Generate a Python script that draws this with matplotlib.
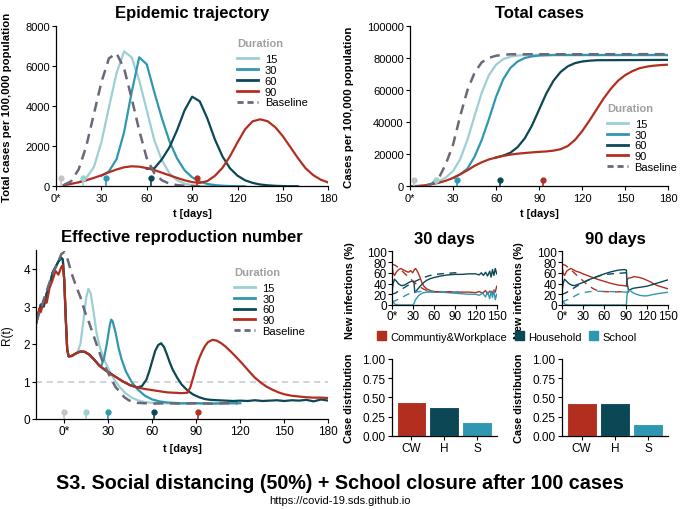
import numpy as np
import matplotlib
matplotlib.use("Agg")
import matplotlib.pyplot as plt
from matplotlib.lines import Line2D
from matplotlib.patches import Patch

plt.rcParams['font.family'] = ['Liberation Sans', 'DejaVu Sans']

C15 = '#9dcfd3'
C30 = '#2f98b0'
C60 = '#0c4756'
C90 = '#b22f20'
CBASE = '#6b6878'
CGREY = '#c4c4c4'

durations = ['15', '30', '60', '90']

# --- epidemic trajectory (incidence per 100,000) ---
inc_base_t = [5, 10, 15, 20, 25, 30, 35, 40, 45, 50, 55, 60, 65, 70, 75, 80, 85, 90, 95]
inc_base = [60, 250, 850, 2000, 3600, 5200, 6400, 6650, 5900, 4400, 2800, 1400, 650, 300, 130, 60, 25, 10, 0]
inc_15_t = [15, 20, 25, 30, 35, 40, 45, 50, 55, 60, 65, 70, 75, 80, 85, 90, 95, 100, 105, 110, 115, 120]
inc_15 = [200, 420, 950, 2200, 3950, 5650, 6750, 6450, 5300, 3800, 2300, 1300, 650, 300, 130, 55, 20, 8, 0, 0, 0, 0]
inc_30_t = [30, 35, 40, 45, 50, 55, 60, 65, 70, 75, 80, 85, 90, 95, 100, 105, 110, 115, 120, 125]
inc_30 = [520, 750, 1350, 2700, 4700, 6450, 6100, 4700, 3400, 2250, 1400, 800, 450, 240, 120, 60, 30, 12, 5, 0]
inc_60_t = [60, 65, 70, 75, 80, 85, 90, 95, 100, 105, 110, 115, 120, 125, 130, 135, 140, 145, 150, 155, 160]
inc_60 = [880, 900, 1350, 1950, 2800, 3800, 4480, 4250, 3400, 2350, 1500, 900, 530, 300, 170, 90, 50, 25, 10, 4, 0]
inc_90_t = [5, 10, 15, 20, 25, 30, 35, 40, 45, 50, 55, 60, 65, 70, 75, 80, 85, 90, 95, 100,
            105, 110, 115, 120, 125, 130, 135, 140, 145, 150, 155, 160, 165, 170, 175, 180]
inc_90 = [50, 120, 200, 300, 420, 550, 700, 840, 950, 1000, 980, 910, 810, 680, 550, 420, 300, 210, 170, 260,
          520, 920, 1500, 2200, 2850, 3250, 3350, 3250, 2950, 2500, 1950, 1400, 900, 560, 330, 190]

# --- total cases ---
cum_base_t = [0, 5, 10, 15, 20, 25, 30, 35, 40, 45, 50, 55, 60, 65, 70, 180]
cum_base = [0, 20, 300, 1500, 5000, 14000, 26000, 44000, 60000, 71000, 77500, 80300, 81600, 82200, 82500, 82600]
cum_15_t = [15, 20, 25, 30, 35, 40, 45, 50, 55, 60, 65, 70, 75, 80, 90, 180]
cum_15 = [1300, 3000, 5500, 9500, 17000, 29000, 44000, 58500, 69500, 76000, 79500, 81000, 81700, 82000, 82200, 82200]
cum_30_t = [30, 35, 40, 45, 50, 55, 60, 65, 70, 75, 80, 85, 90, 100, 180]
cum_30 = [5200, 7500, 11000, 18500, 29000, 42000, 56000, 67000, 74000, 78000, 80200, 81200, 81700, 82000, 82000]
cum_60_t = [60, 65, 70, 75, 80, 85, 90, 95, 100, 105, 110, 115, 120, 125, 130, 180]
cum_60 = [18000, 19200, 21000, 24500, 30000, 38000, 48000, 58000, 66000, 71500, 75000, 77000, 78000, 78500, 78800, 79000]
cum_90_t = list(range(0, 185, 5))
cum_90 = [0, 200, 600, 1300, 2200, 3500, 5200, 7500, 10000, 12800, 15000, 16800, 18000, 19000, 19800, 20400,
          20800, 21200, 21500, 21800, 22300, 23200, 25200, 29000, 34500, 41000, 48000, 55000, 61000, 66000,
          69500, 72000, 73800, 74800, 75400, 75800, 76000]

lift_days_top = [3, 18, 33, 63, 93]

# --- effective reproduction number ---
r_pre_t = [-19, -17, -16, -14, -12, -10, -8, -6, -4, -2, -1]
r_pre_red = [2.55, 2.95, 2.85, 3.15, 3.1, 3.5, 3.7, 3.95, 3.85, 4.05, 4.1]
r_pre_teal = [2.6, 2.9, 3.05, 3.0, 3.35, 3.55, 3.9, 4.05, 4.2, 4.3, 4.25]
r_90_t = [0, 1, 2, 3, 5, 8, 11, 14, 17, 20, 24, 28, 32, 36, 40, 45, 50, 55, 60, 65,
          70, 75, 80, 84, 86, 88, 90, 92, 94, 96, 98, 101, 104, 107, 110, 114, 118, 122, 126, 130,
          134, 138, 142, 146, 150, 155, 160, 165, 170, 175, 180]
r_90 = [3.7, 2.7, 1.85, 1.67, 1.68, 1.75, 1.8, 1.79, 1.72, 1.6, 1.42, 1.3, 1.2, 1.1, 1.0, 0.9, 0.84, 0.8, 0.77, 0.74,
        0.71, 0.7, 0.69, 0.7, 0.85, 1.12, 1.4, 1.62, 1.8, 1.95, 2.05, 2.11, 2.09, 2.02, 1.93, 1.78, 1.62, 1.45, 1.27, 1.1,
        0.97, 0.86, 0.78, 0.71, 0.66, 0.62, 0.6, 0.58, 0.57, 0.57, 0.56]
r_15_t = [9, 11, 13, 15, 16.5, 18, 20, 22, 24, 27, 30, 34, 38, 42, 46, 50, 55, 60, 70, 80, 90, 100, 110, 118]
r_15 = [1.78, 2.0, 2.6, 3.25, 3.47, 3.35, 2.85, 2.3, 1.95, 1.6, 1.35, 1.05, 0.84, 0.68, 0.57, 0.5, 0.45, 0.43,
        0.42, 0.41, 0.42, 0.41, 0.42, 0.42]
r_30_t = [25, 27, 29, 31, 32, 33, 35, 37, 39, 42, 46, 50, 55, 60, 65, 70, 80, 90, 100, 110, 120]
r_30 = [1.4, 1.6, 2.0, 2.5, 2.65, 2.6, 2.3, 1.9, 1.6, 1.27, 0.98, 0.79, 0.62, 0.52, 0.47, 0.44, 0.42, 0.42,
        0.41, 0.42, 0.42]
r_60_t = [50, 53, 56, 58, 60, 62, 64, 66, 68, 70, 72, 74, 77, 80, 84, 88, 92, 96, 100, 105,
          110, 115, 120, 125, 130, 135, 140, 145, 150, 155, 160, 165, 170, 175, 180]
r_60 = [0.84, 0.88, 1.05, 1.28, 1.55, 1.82, 1.97, 2.02, 1.92, 1.72, 1.5, 1.31, 1.1, 0.92, 0.76, 0.65, 0.58, 0.53,
        0.51, 0.5, 0.49, 0.48, 0.49, 0.48, 0.5, 0.48, 0.49, 0.5, 0.48, 0.5, 0.49, 0.51, 0.47, 0.52, 0.49]
r_base_t = [-19, -16, -13, -10, -7, -4, -2, 0, 2, 5, 8, 11, 14, 17, 20, 23, 26, 29, 32, 35,
            38, 41, 44, 47, 50, 55, 60, 70, 80, 90, 100, 110, 118]
r_base = [2.6, 2.95, 3.3, 3.65, 3.95, 4.2, 4.4, 4.45, 4.3, 3.88, 3.55, 3.25, 2.87, 2.56, 2.22, 1.88, 1.55, 1.3,
          1.07, 0.85, 0.72, 0.58, 0.5, 0.45, 0.43, 0.42, 0.41, 0.42, 0.41, 0.42, 0.41, 0.42, 0.42]
lift_days_r = [0, 15, 30, 61, 91]

# --- new infections by setting (%) ---
cw30_t = [0, 2, 4, 7, 10, 13, 16, 20, 24, 27, 30, 32, 34, 37, 40, 43, 46, 50, 55, 60,
          70, 80, 90, 100, 110, 120, 125, 130, 134, 137, 140, 143, 146, 148, 150]
cw30 = [76, 60, 55, 62, 66, 68, 66, 63, 61, 64, 60, 65, 68, 62, 53, 42, 35, 30, 27, 25,
        24, 24, 24, 24, 24, 23, 25, 22, 27, 20, 26, 21, 28, 24, 35]
hh30_t = [0, 2, 4, 7, 10, 14, 18, 22, 26, 30, 32, 33, 35, 38, 42, 46, 50, 55, 60, 70,
          80, 90, 100, 110, 120, 125, 128, 131, 134, 137, 140, 142, 144, 146, 148, 150]
hh30 = [20, 40, 48, 44, 39, 36, 37, 40, 43, 45, 40, 23, 26, 31, 37, 42, 46, 49, 51, 54,
        56, 57, 57, 58, 58, 56, 60, 55, 61, 54, 63, 52, 66, 55, 68, 58]
sc30_t = [0, 3, 5, 10, 20, 30, 32, 34, 36, 38, 42, 46, 50, 60, 70, 80, 90, 100, 110, 120,
          125, 130, 134, 137, 140, 142, 144, 146, 148, 150]
sc30 = [8, 4, 1, 0, 0, 0, 3, 10, 13, 17, 21, 23, 24, 24, 24, 23, 22, 21, 20, 20,
        18, 22, 15, 24, 12, 26, 14, 27, 10, 20]
cw90_t = [0, 2, 4, 7, 10, 13, 16, 20, 25, 30, 40, 50, 60, 70, 80, 88, 91, 92, 94, 98,
          102, 106, 110, 115, 120, 125, 130, 135, 140, 145, 150]
cw90 = [76, 60, 55, 63, 66, 68, 66, 63, 61, 58, 53, 48, 44, 40, 37, 36, 35, 47, 50, 51,
        53, 52, 51, 49, 46, 43, 39, 36, 34, 32, 30]
hh90_t = [0, 2, 4, 7, 10, 14, 18, 22, 26, 30, 40, 50, 60, 70, 80, 88, 91, 92, 94, 97,
          100, 105, 110, 120, 130, 140, 150]
hh90 = [20, 40, 48, 44, 40, 37, 36, 38, 40, 42, 48, 53, 58, 62, 65, 66, 65, 40, 28, 29,
        31, 32, 33, 35, 39, 43, 47]
sc90_t = [0, 3, 5, 10, 30, 60, 90, 91, 92, 94, 97, 100, 105, 110, 115, 120, 130, 140, 150]
sc90 = [8, 4, 1, 0, 0, 0, 0, 1, 20, 28, 26, 23, 20, 18, 17, 17, 20, 22, 24]
bl_t = [0, 5, 10, 15, 20, 25, 30, 35, 40, 45, 50, 55, 60, 70, 80, 90, 95]
bl_cw = [76, 74, 69, 63, 57, 51, 45, 39, 34, 30, 27, 25.5, 25, 24.5, 24.5, 25, 25]
bl_hh = [20, 22, 26, 30, 34, 38, 42, 45, 48, 51, 53, 55, 56.5, 58, 59, 60, 60]
bl_sc = [6, 8, 11, 14, 18, 21, 23, 24, 25, 25.5, 25.5, 25.5, 25, 25, 24.5, 24, 24]

# --- case distribution ---
settings = ['CW', 'H', 'S']
dist30 = [0.44, 0.37, 0.18]
dist90 = [0.42, 0.43, 0.15]

colors = [C15, C30, C60, C90]
set_colors = [C90, C60, C30]

W, H = 680, 510
fig = plt.figure(figsize=(6.8, 5.1), dpi=100)


def add_ax(l, t, r, b):
    return fig.add_axes([l / W, 1 - b / H, (r - l) / W, (b - t) / H])


def style(ax, size=8):
    for s in ['top', 'right']:
        ax.spines[s].set_visible(False)
    for s in ['left', 'bottom']:
        ax.spines[s].set_linewidth(0.9)
    ax.tick_params(length=3, width=0.8, labelsize=size, pad=1.5, colors='black')
    ax.set_facecolor('none')


def dur_legend(ax, x, y):
    handles = [Line2D([], [], color=c, lw=2) for c in colors]
    handles.append(Line2D([], [], color=CBASE, lw=2, ls=(0, (2.2, 1.4))))
    leg = ax.legend(handles, durations + ['Baseline'], title='Duration', loc='upper left',
                    bbox_to_anchor=(x, y), frameon=False, fontsize=8, handlelength=1.9,
                    handletextpad=0.6, labelspacing=0.08, borderpad=0, borderaxespad=0,
                    alignment='left', title_fontproperties={'weight': 'bold', 'size': 8})
    leg.get_title().set_color('#a0a0a0')
    leg._legend_box.sep = 4


def lollipops(ax, days, h):
    cols = [CGREY] + colors
    for d, c in zip(days, cols):
        ax.plot([d, d], [0, h], color=c, lw=1.2, zorder=5)
        ax.plot(d, h, 'o', color=c, ms=3.5, zorder=5)


day_ticks = [0, 30, 60, 90, 120, 150, 180]
day_labels = ['0*', '30', '60', '90', '120', '150', '180']
dash = (0, (4, 2.6))
TFS = 12

# Epidemic trajectory
ax1 = add_ax(56, 27.3, 328.3, 187.3)
for t, v, c in zip([inc_15_t, inc_30_t, inc_60_t, inc_90_t], [inc_15, inc_30, inc_60, inc_90], colors):
    ax1.plot(t, v, color=c, lw=1.6)
ax1.plot(inc_base_t, inc_base, color=CBASE, lw=1.8, ls=dash)
lollipops(ax1, lift_days_top, 400)
ax1.set_xlim(0, 180)
ax1.set_ylim(0, 8000)
ax1.set_xticks(day_ticks, day_labels)
ax1.set_yticks([0, 2000, 4000, 6000, 8000])
style(ax1)
ax1.set_title('Epidemic trajectory', fontsize=TFS, weight='bold', pad=7)
ax1.set_ylabel('Total cases per 100,000 population', fontsize=8.2, weight='bold')
ax1.yaxis.set_label_coords(-0.16, 0.5)
ax1.set_xlabel('t [days]', fontsize=7.8, weight='bold', labelpad=4)
dur_legend(ax1, 0.665, 0.925)

# Total cases
ax2 = add_ax(410, 27.3, 668.3, 187.3)
for t, v, c in zip([cum_15_t, cum_30_t, cum_60_t, cum_90_t], [cum_15, cum_30, cum_60, cum_90], colors):
    ax2.plot(t, v, color=c, lw=1.6)
ax2.plot(cum_base_t, cum_base, color=CBASE, lw=1.8, ls=dash)
lollipops(ax2, lift_days_top, 4000)
ax2.set_xlim(0, 180)
ax2.set_ylim(0, 100000)
ax2.set_xticks(day_ticks, day_labels)
ax2.set_yticks([0, 20000, 40000, 60000, 80000, 100000])
style(ax2)
ax2.set_title('Total cases', fontsize=TFS, weight='bold', pad=7)
ax2.set_ylabel('Cases per 100,000 population', fontsize=8.2, weight='bold')
ax2.yaxis.set_label_coords(-0.215, 0.5)
ax2.set_xlabel('t [days]', fontsize=7.8, weight='bold', labelpad=4)
dur_legend(ax2, 0.762, 0.52)

# Effective reproduction number
ax3 = add_ax(36.4, 251.25, 328.3, 420)
ax3.axhline(1, color='#c8c8c8', lw=1.1, ls=(0, (4, 3)), zorder=1)
red_t = np.array(r_90_t)
red_v = np.array(r_90)
for t, v, c in zip([r_15_t, r_30_t, r_60_t], [r_15, r_30, r_60], colors[:3]):
    keep = red_t < t[0]
    ax3.plot(np.concatenate([r_pre_t, red_t[keep], t]),
             np.concatenate([r_pre_teal, red_v[keep], v]), color=c, lw=1.6)
ax3.plot(np.concatenate([r_pre_t, red_t]), np.concatenate([r_pre_red, red_v]), color=C90, lw=1.6)
ax3.plot(r_base_t, r_base, color=CBASE, lw=1.8, ls=dash)
lollipops(ax3, lift_days_r, 0.2)
ax3.set_xlim(-19, 180)
ax3.set_ylim(0, 4.5)
ax3.set_xticks(day_ticks, day_labels)
ax3.set_yticks([0, 1, 2, 3, 4])
style(ax3, 8.5)
ax3.set_title('Effective reproduction number', fontsize=TFS, weight='bold', pad=7)
ax3.set_ylabel('R(t)', fontsize=8.5)
ax3.yaxis.set_label_coords(-0.08, 0.5)
ax3.set_xlabel('t [days]', fontsize=7.8, weight='bold', labelpad=4)
dur_legend(ax3, 0.678, 0.9)

# New infections by setting
small_ticks = [0, 30, 60, 90, 120, 150]
small_labels = ['0*', '30', '60', '90', '120', '150']
panels = [
    (391.7, 496.7, '30 days', [(cw30_t, cw30), (hh30_t, hh30), (sc30_t, sc30)], dist30),
    (561.7, 668.3, '90 days', [(cw90_t, cw90), (hh90_t, hh90), (sc90_t, sc90)], dist90),
]
for l, r, title, series, dist in panels:
    ax = add_ax(l, 252.3, r, 306)
    for (t, v), c in zip(series, set_colors):
        ax.plot(t, v, color=c, lw=1.0)
    for v, c in zip([bl_cw, bl_hh, bl_sc], set_colors):
        ax.plot(bl_t, v, color=c, lw=1.0, ls=(0, (5, 4)))
    ax.set_xlim(0, 150)
    ax.set_ylim(0, 100)
    ax.set_xticks(small_ticks, small_labels)
    ax.set_yticks([0, 20, 40, 60, 80, 100])
    style(ax, 8.5)
    ax.tick_params(pad=0.5)
    ax.set_title(title, fontsize=TFS, weight='bold', pad=6)
    ax.set_ylabel('New infections (%)', fontsize=7.8, weight='bold')
    ax.yaxis.set_label_coords(-0.35, 0.28)

    bx = add_ax(l, 360, r, 436.7)
    bx.bar(range(1, 4), dist, width=0.9, color=set_colors, edgecolor='white', linewidth=0.8)
    bx.set_xlim(0.4, 3.6)
    bx.set_ylim(0, 1)
    bx.set_xticks(range(1, 4), settings)
    bx.set_yticks([0, 0.25, 0.5, 0.75, 1.0], ['0.00', '0.25', '0.50', '0.75', '1.00'])
    style(bx, 8.5)
    bx.set_ylabel('Case distribution', fontsize=7.8, weight='bold')
    bx.yaxis.set_label_coords(-0.355, 0.5)

fig.legend([Patch(color=c) for c in set_colors], ['Communtiy&Workplace', 'Household', 'School'],
           loc='center', bbox_to_anchor=(507 / W, 1 - 337.5 / H), ncol=3, frameon=False,
           fontsize=8, handlelength=0.8, handleheight=0.8, handletextpad=0.4, columnspacing=0.7)

fig.text(0.5, 1 - 484 / H, 'S3. Social distancing (50%) + School closure after 100 cases',
         ha='center', va='center', fontsize=14.2, weight='bold')
fig.text(0.5, 1 - 501 / H, 'https://covid-19.sds.github.io', ha='center', va='center', fontsize=8)

fig.savefig('out.png', dpi=100)
